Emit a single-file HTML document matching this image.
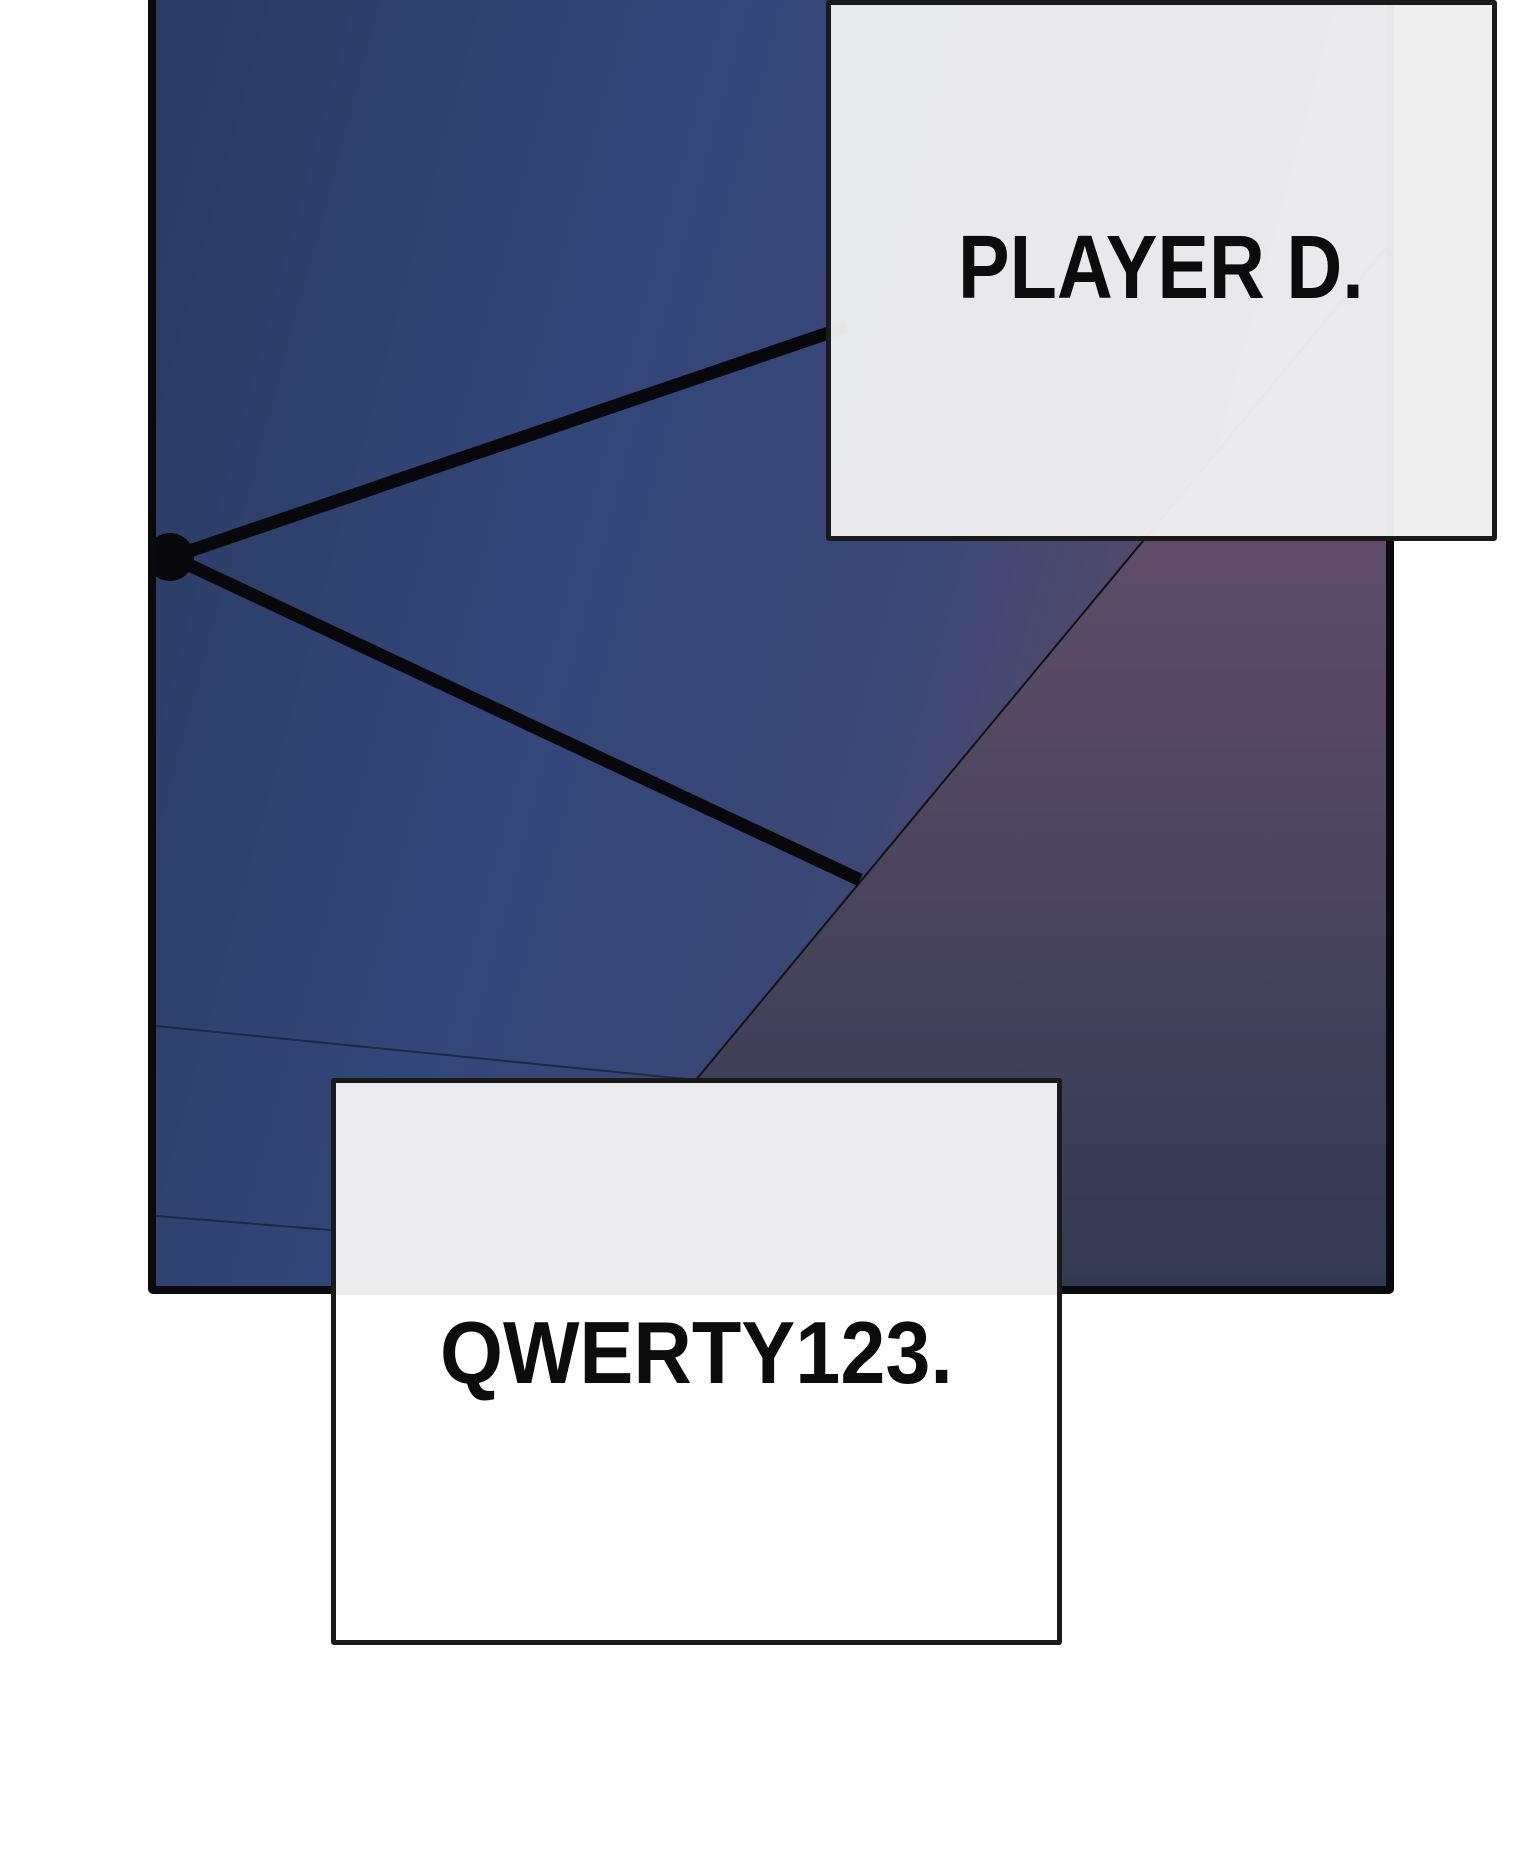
<!DOCTYPE html>
<html><head><style>
body{margin:0;width:1536px;height:1857px;background:#fff;position:relative;overflow:hidden;font-family:"Liberation Sans",sans-serif}
.panel{position:absolute;left:148px;top:-8px;width:1230px;height:1286px;border:8px solid #0a0a0e;border-radius:5px;background:linear-gradient(105deg,#2a3b60 0%,#33467a 35%,#3b4775 58%,#5a4a68 78%,#4e4560 100%);overflow:hidden}
.box{position:absolute;border:5px solid #1a1a1a;border-radius:3px;background:rgba(238,238,240,0.97)}
.t{position:absolute;font-weight:bold;color:#0c0c0c;white-space:nowrap;transform-origin:0 0;line-height:1}
</style></head><body>
<div class="panel">
<svg width="1230" height="1286" style="position:absolute;left:0;top:0">
<defs><linearGradient id="g" x1="0" y1="0" x2="0" y2="1"><stop offset="0.3" stop-color="#5e4c68"/><stop offset="1" stop-color="#323a52"/></linearGradient></defs>
<polygon points="1230,248 1230,1286 369,1286" fill="url(#g)"/>
<line x1="1230" y1="248" x2="369" y2="1286" stroke="#111" stroke-width="2"/>
<line x1="0" y1="1026" x2="560" y2="1082" stroke="#1d2a44" stroke-width="2"/>
<line x1="0" y1="1216" x2="200" y2="1232" stroke="#1d2a44" stroke-width="2"/>
<line x1="16" y1="557" x2="690" y2="327" stroke="#08080c" stroke-width="13"/>
<line x1="16" y1="557" x2="704" y2="880" stroke="#08080c" stroke-width="13"/>
<circle cx="14" cy="557" r="24" fill="#08080c"/>
</svg>
</div>
<div class="box" style="left:826px;top:0;width:661px;height:531px"></div>
<div class="t" style="left:958px;top:223px;font-size:90px;transform:scaleX(0.86)">PLAYER D.</div>
<div class="box" style="left:331px;top:1078px;width:721px;height:557px;background:#fff">
<div style="position:absolute;left:0;top:0;right:0;height:212px;background:#ececef"></div></div>
<div class="t" style="left:440px;top:1309px;font-size:88px;transform:scaleX(0.92)">QWERTY123.</div>
</body></html>
